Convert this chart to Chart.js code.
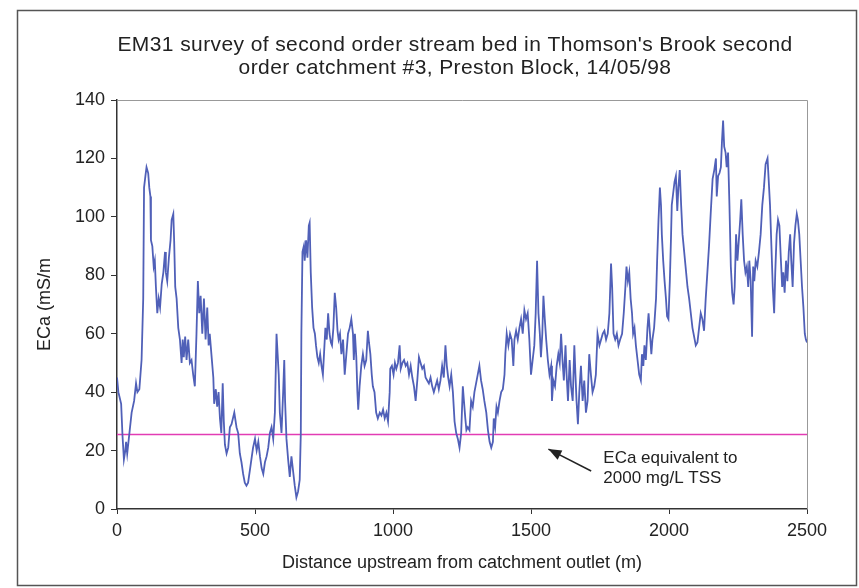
<!DOCTYPE html>
<html>
<head>
<meta charset="utf-8">
<script src="https://cdn.jsdelivr.net/npm/chart.js@4.4.1/dist/chart.umd.min.js"></script>
<style>
  html, body { margin: 0; padding: 0; background: #fff; }
  #wrap { width: 859px; height: 588px; position: relative; }
</style>
</head>
<body>
<div id="wrap"><canvas id="chart" width="859" height="588"></canvas></div>
<script>
// EM31 survey readings (distance in m, ECa in mS/m)
const distance = [
  0, 5, 10, 15, 20, 25, 30, 33, 37, 45, 53, 62, 69, 74, 81, 89, 95, 98, 103, 107,
  113, 117, 121, 123, 128, 133, 137, 141, 146, 151, 156, 162, 168, 174, 177, 182, 188, 194, 198, 204,
  207, 211, 216, 222, 228, 234, 238, 242, 247, 252, 258, 264, 270, 276, 282, 288, 293, 298, 303, 309,
  315, 321, 327, 332, 336, 342, 349, 352, 358, 363, 368, 373, 378, 383, 387, 391, 397, 403, 409, 415,
  425, 433, 439, 445, 451, 457, 463, 469, 475, 481, 487, 493, 500, 506, 512, 518, 524, 530, 536, 542,
  548, 554, 560, 566, 572, 578, 582, 586, 590, 596, 602, 606, 609, 614, 620, 626, 632, 638, 644, 650,
  656, 662, 666, 668, 672, 677, 680, 685, 690, 695, 698, 702, 707, 712, 717, 721, 726, 731, 736, 741,
  746, 750, 755, 760, 765, 770, 775, 779, 784, 789, 794, 799, 803, 808, 813, 819, 825, 831, 837, 843,
  849, 855, 858, 862, 867, 871, 874, 879, 885, 891, 897, 903, 909, 913, 918, 923, 927, 933, 939, 945,
  952, 958, 964, 970, 976, 982, 988, 990, 996, 1002, 1007, 1012, 1018, 1024, 1028, 1034, 1040, 1046, 1052, 1058,
  1064, 1070, 1076, 1082, 1088, 1094, 1100, 1106, 1112, 1118, 1124, 1130, 1136, 1142, 1148, 1154, 1160, 1166, 1172, 1178,
  1184, 1190, 1195, 1200, 1205, 1211, 1217, 1223, 1229, 1235, 1241, 1247, 1253, 1257, 1262, 1266, 1271, 1277, 1283, 1289,
  1295, 1301, 1307, 1313, 1319, 1325, 1331, 1338, 1344, 1350, 1356, 1362, 1365, 1370, 1375, 1380, 1386, 1392, 1398, 1404,
  1407, 1412, 1418, 1424, 1430, 1436, 1440, 1446, 1452, 1458, 1464, 1470, 1476, 1482, 1488, 1494, 1500, 1506, 1512, 1517,
  1522, 1527, 1532, 1536, 1541, 1545, 1550, 1555, 1561, 1567, 1573, 1576, 1581, 1587, 1593, 1599, 1604, 1609, 1614, 1619,
  1625, 1629, 1634, 1640, 1645, 1651, 1657, 1661, 1665, 1670, 1675, 1681, 1687, 1693, 1699, 1705, 1711, 1717, 1723, 1729,
  1735, 1741, 1748, 1754, 1760, 1766, 1772, 1778, 1784, 1790, 1794, 1799, 1805, 1811, 1817, 1823, 1830, 1836, 1842, 1846,
  1851, 1856, 1861, 1866, 1870, 1875, 1880, 1886, 1892, 1898, 1902, 1907, 1911, 1916, 1922, 1926, 1931, 1936, 1940, 1946,
  1953, 1957, 1962, 1967, 1971, 1974, 1979, 1984, 1989, 1993, 1998, 2003, 2007, 2010, 2015, 2020, 2025, 2030, 2034, 2039,
  2044, 2049, 2055, 2061, 2067, 2073, 2079, 2085, 2091, 2097, 2103, 2109, 2115, 2121, 2127, 2133, 2139, 2145, 2151, 2158,
  2164, 2170, 2173, 2178, 2183, 2188, 2192, 2196, 2200, 2205, 2209, 2214, 2219, 2224, 2229, 2234, 2238, 2243, 2248, 2253,
  2258, 2262, 2267, 2272, 2277, 2282, 2287, 2291, 2296, 2301, 2305, 2309, 2314, 2320, 2326, 2332, 2338, 2344, 2350, 2357,
  2361, 2366, 2371, 2376, 2381, 2385, 2390, 2395, 2400, 2405, 2410, 2414, 2419, 2424, 2429, 2434, 2439, 2443, 2448, 2453,
  2458, 2463, 2467, 2472, 2477, 2482, 2487, 2492, 2496, 2500
];
const eca = [
  45, 40, 38, 36, 25, 17, 20, 23, 19, 26, 33, 37, 43, 40, 41, 51, 72, 110, 114, 117,
  115, 110, 107, 92, 90, 83, 85, 76, 67, 72, 69, 77, 81, 88, 81, 78, 86, 92, 99, 101,
  92, 76, 72, 62, 58, 50, 58, 52, 59, 51, 58, 50, 51, 46, 42, 60, 78, 67, 73, 60,
  72, 58, 69, 56, 60, 53, 45, 36, 41, 35, 40, 31, 26, 43, 30, 22, 19, 21, 28, 29,
  33, 28, 26, 19, 16, 12, 9, 8, 9, 13, 17, 21, 24, 20, 23, 18, 14, 12, 16, 18,
  21, 26, 28, 24, 33, 60, 53, 46, 33, 26, 40, 51, 37, 24, 17, 11, 18, 13, 8, 4,
  6, 10, 26, 60, 88, 90, 85, 92, 86, 97, 98, 81, 69, 62, 60, 56, 52, 50, 53, 49,
  46, 53, 62, 58, 67, 60, 57, 56, 62, 74, 69, 61, 58, 60, 53, 58, 46, 53, 60, 62,
  65, 60, 51, 60, 52, 40, 34, 42, 49, 53, 49, 51, 61, 57, 53, 46, 42, 40, 33, 31,
  33, 32, 34, 31, 33, 30, 40, 48, 49, 46, 50, 48, 50, 56, 48, 50, 51, 49, 50, 46,
  49, 45, 42, 37, 44, 52, 50, 48, 49, 45, 44, 43, 45, 42, 40, 42, 44, 41, 44, 49,
  45, 56, 49, 45, 42, 46, 40, 30, 26, 24, 21, 26, 42, 37, 31, 27, 28, 27, 37, 35,
  40, 43, 46, 49, 44, 41, 37, 33, 27, 23, 21, 23, 31, 28, 35, 33, 37, 40, 41, 46,
  53, 60, 56, 60, 58, 49, 58, 61, 58, 62, 65, 60, 68, 65, 67, 58, 46, 51, 56, 67,
  85, 67, 60, 52, 60, 73, 65, 58, 51, 46, 49, 37, 44, 42, 49, 53, 50, 60, 51, 44,
  56, 46, 37, 51, 42, 37, 56, 46, 37, 29, 40, 49, 37, 44, 33, 37, 53, 46, 40, 42,
  46, 60, 56, 58, 60, 61, 58, 60, 67, 84, 76, 60, 58, 60, 56, 58, 60, 67, 76, 83,
  78, 81, 72, 67, 60, 62, 56, 51, 46, 44, 53, 49, 56, 51, 62, 67, 60, 53, 58, 62,
  72, 85, 99, 110, 104, 94, 85, 78, 72, 66, 65, 78, 92, 104, 108, 112, 114, 102, 110, 116,
  104, 94, 88, 82, 76, 72, 67, 62, 59, 56, 57, 62, 67, 65, 61, 72, 81, 90, 101, 113,
  116, 120, 107, 114, 115, 117, 126, 133, 124, 122, 117, 122, 104, 83, 74, 70, 76, 94, 85, 92,
  99, 106, 94, 85, 81, 83, 76, 85, 78, 59, 83, 78, 85, 83, 88, 94, 104, 110, 118, 120,
  113, 104, 90, 76, 67, 81, 94, 99, 97, 86, 76, 81, 74, 85, 78, 88, 94, 85, 76, 91,
  97, 101, 99, 94, 85, 76, 69, 60, 58, 57
];
// ECa equivalent to 2000 mg/L TSS
const thresholdX = [0, 2500];
const thresholdY = [25.5, 25.5];
const xTicks = [0, 500, 1000, 1500, 2000, 2500];
const yTicks = [0, 20, 40, 60, 80, 100, 120, 140];

const titleLines = [
  "EM31 survey of second order stream bed in Thomson's Brook second",
  "order catchment #3, Preston Block, 14/05/98"
];
const noteLines = ['ECa equivalent to', '2000 mg/L TSS'];

const FONT = "'Liberation Sans', Arial, sans-serif";
Chart.defaults.font.family = FONT;
Chart.defaults.color = '#222';

// outer frame, title over the plot area, and top/right plot border
const framePlugin = {
  id: 'frame',
  beforeDraw(chart) {
    const ctx = chart.ctx;
    ctx.save();
    ctx.fillStyle = '#fff';
    ctx.fillRect(0, 0, chart.width, chart.height);
    ctx.strokeStyle = '#555';
    ctx.lineWidth = 1.5;
    ctx.strokeRect(17.5, 10.5, 839, 575);

    // title roughly centred over the plot area (Excel style)
    const a = chart.chartArea;
    const cx = (a.left + a.right) / 2 - 7;
    ctx.fillStyle = '#222';
    ctx.font = '21px ' + FONT;
    if ('letterSpacing' in ctx) ctx.letterSpacing = '0.4px';
    ctx.textAlign = 'center';
    ctx.textBaseline = 'middle';
    ctx.fillText(titleLines[0], cx, 45);
    ctx.fillText(titleLines[1], cx, 68);
    ctx.restore();
  },
  afterDraw(chart) {
    const { ctx, chartArea: a } = chart;
    ctx.save();
    ctx.strokeStyle = '#999';
    ctx.lineWidth = 1;
    ctx.beginPath();
    ctx.moveTo(a.left, a.top + 0.5);
    ctx.lineTo(a.right + 0.5, a.top + 0.5);
    ctx.lineTo(a.right + 0.5, a.bottom);
    ctx.stroke();
    ctx.restore();
  }
};

// text note and arrow pointing at the threshold line
const notePlugin = {
  id: 'note',
  afterDatasetsDraw(chart) {
    const { ctx, scales: { x, y } } = chart;
    const tailX = x.getPixelForValue(1718), tailY = y.getPixelForValue(13);
    const headX = x.getPixelForValue(1563), headY = y.getPixelForValue(20.5);
    ctx.save();
    ctx.strokeStyle = '#222';
    ctx.fillStyle = '#222';
    ctx.lineWidth = 1.5;
    ctx.beginPath();
    ctx.moveTo(tailX, tailY);
    ctx.lineTo(headX, headY);
    ctx.stroke();
    const ang = Math.atan2(headY - tailY, headX - tailX);
    const len = 14, wid = 0.38;
    ctx.beginPath();
    ctx.moveTo(headX, headY);
    ctx.lineTo(headX - len * Math.cos(ang - wid), headY - len * Math.sin(ang - wid));
    ctx.lineTo(headX - len * Math.cos(ang + wid), headY - len * Math.sin(ang + wid));
    ctx.closePath();
    ctx.fill();

    ctx.font = '17px ' + FONT;
    ctx.textBaseline = 'middle';
    ctx.textAlign = 'left';
    const textX = x.getPixelForValue(1762);
    ctx.fillText(noteLines[0], textX, y.getPixelForValue(17.5));
    ctx.fillText(noteLines[1], textX, y.getPixelForValue(10.6));
    ctx.restore();
  }
};

new Chart(document.getElementById('chart'), {
  type: 'line',
  data: {
    datasets: [
      {
        label: 'ECa',
        data: distance.map((d, i) => ({ x: d, y: eca[i] })),
        borderColor: '#5060b8',
        borderWidth: 1.8,
        pointRadius: 0,
        tension: 0
      },
      {
        label: 'threshold',
        data: thresholdX.map((d, i) => ({ x: d, y: thresholdY[i] })),
        borderColor: '#e23cb4',
        borderWidth: 1.5,
        pointRadius: 0
      }
    ]
  },
  options: {
    responsive: false,
    animation: false,
    devicePixelRatio: 1,
    layout: { padding: { left: 0, right: 52, top: 100, bottom: 0 } },
    plugins: {
      legend: { display: false },
      tooltip: { enabled: false },
      title: { display: false }
    },
    scales: {
      x: {
        type: 'linear',
        min: 0,
        max: 2500,
        afterBuildTicks: s => { s.ticks = xTicks.map(v => ({ value: v })); },
        afterFit: s => { s.height = 79; },
        ticks: {
          font: { size: 18 }, color: '#222', padding: 6, maxRotation: 0,
          callback: v => String(v)
        },
        grid: { drawOnChartArea: false, drawTicks: true, tickLength: 5, color: '#333' },
        border: { display: true, color: '#333', width: 1.5 },
        title: {
          display: true,
          text: 'Distance upstream from catchment outlet (m)',
          color: '#222',
          font: { size: 18 },
          padding: { top: 0, bottom: 14 }
        }
      },
      y: {
        min: 0,
        max: 140,
        afterBuildTicks: s => { s.ticks = yTicks.map(v => ({ value: v })); },
        afterFit: s => { s.width = 117; },
        ticks: { font: { size: 18 }, color: '#222', padding: 6 },
        grid: { drawOnChartArea: false, drawTicks: true, tickLength: 6, color: '#333' },
        border: { display: true, color: '#333', width: 1.5 },
        title: {
          display: true,
          text: 'ECa (mS/m',
          color: '#222',
          font: { size: 18 },
          padding: { top: 34, bottom: 0 }
        }
      }
    }
  },
  plugins: [framePlugin, notePlugin]
});
</script>
</body>
</html>
